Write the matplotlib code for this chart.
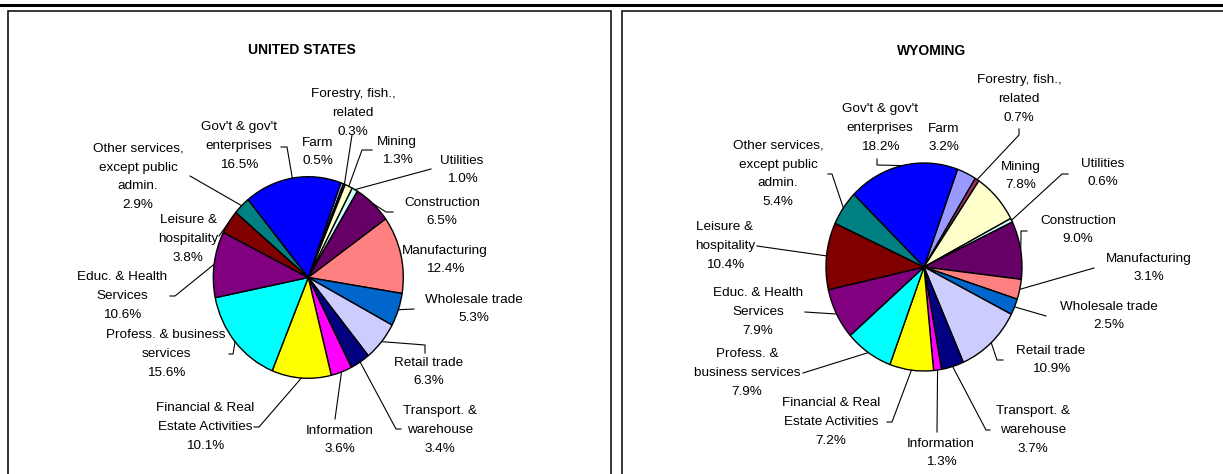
import matplotlib
matplotlib.use("Agg")
import matplotlib.pyplot as plt
from matplotlib.patches import Rectangle
from matplotlib.lines import Line2D
import numpy as np

plt.rcParams['font.family'] = ['Liberation Sans', 'DejaVu Sans']

# industries, in the order the slices are drawn (clockwise)
industries = ["Farm", "Forestry, fish., related", "Mining", "Utilities", "Construction",
              "Manufacturing", "Wholesale trade", "Retail trade", "Transport. & warehouse",
              "Information", "Financial & Real Estate Activities",
              "Profess. & business services", "Educ. & Health Services",
              "Leisure & hospitality", "Other services, except public admin.",
              "Gov't & gov't enterprises"]
us_share = [0.5, 0.3, 1.3, 1.0, 6.5, 12.4, 5.3, 6.3, 3.4, 3.6, 10.1, 15.6, 10.6, 3.8, 2.9, 16.5]
wy_share = [3.2, 0.7, 7.8, 0.6, 9.0, 3.1, 2.5, 10.9, 3.7, 1.3, 7.2, 7.9, 7.9, 10.4, 5.4, 18.2]

# label text as it is wrapped on each chart
us_names = ["Farm", "Forestry, fish.,\nrelated", "Mining", "Utilities", "Construction",
            "Manufacturing", "Wholesale trade", "Retail trade", "Transport. &\nwarehouse",
            "Information", "Financial & Real\nEstate Activities",
            "Profess. & business\nservices", "Educ. & Health\nServices",
            "Leisure &\nhospitality", "Other services,\nexcept public\nadmin.",
            "Gov't & gov't\nenterprises"]
wy_names = ["Farm", "Forestry, fish.,\nrelated", "Mining", "Utilities", "Construction",
            "Manufacturing", "Wholesale trade", "Retail trade", "Transport. &\nwarehouse",
            "Information", "Financial & Real\nEstate Activities",
            "Profess. &\nbusiness services", "Educ. & Health\nServices",
            "Leisure &\nhospitality", "Other services,\nexcept public\nadmin.",
            "Gov't & gov't\nenterprises"]

colors = ["#9999FF", "#993366", "#FFFFCC", "#CCFFFF", "#660066", "#FF8080", "#0066CC",
          "#CCCCFF", "#000080", "#FF00FF", "#FFFF00", "#00FFFF", "#800080", "#800000",
          "#008080", "#0000FF"]

W, H = 1223, 474
fig = plt.figure(figsize=(W / 100, H / 100), dpi=100)

# layout (pixels): pie centre / radii, label centres, leader line start points
us_layout = dict(
    title="UNITED STATES", title_xy=(302, 50), cx=308.3, cy=277.5, rx=95, ry=100.8,
    label_xy=[(318, 152), (353, 113), (397, 151), (462, 170), (442, 212), (445, 260),
              (474, 309), (429, 372), (440, 430), (340, 440), (205, 427), (166, 354),
              (122, 296), (188, 239), (138, 177), (239, 146)],
    leaders=[None, [(352, 135)], [(372, 150), (362, 150)], [(431, 169)],
             [(393, 212), (386, 212)], None, [(414, 309)], [(425, 353), (425, 345)],
             [(401, 429), (396, 429)], [(335, 419)], [(254, 427), (259, 427)],
             [(229, 354), (233, 354)], [(170, 296), (175, 296)], [(219, 236)],
             [(190, 176)], [(281, 147), (287, 147)]],
)
wy_layout = dict(
    title="WYOMING", title_xy=(932, 51), cx=924, cy=267, rx=98, ry=104,
    label_xy=[(944, 138), (1019, 99), (1021, 176), (1103, 173), (1078, 230), (1149, 268),
              (1109, 316), (1051, 360), (1033, 430), (941, 453), (831, 422), (747, 373),
              (758, 312), (725, 246), (778, 174), (880, 128)],
    leaders=[None, [(1019, 129), (1019, 135)], None, [(1068, 174), (1062, 174)],
             [(1027, 231), (1021, 231), (1021, 238)], [(1094, 268)], [(1046, 316)],
             [(1003, 360), (997, 360)], [(990, 430), (986, 430)], [(937, 432)],
             [(887, 422), (892, 422)], [(803, 373)], [(805, 312)], [(757, 246)],
             [(828, 174), (832, 174)], [(877, 159), (877, 165)]],
)


def draw_pie(values, names, lay):
    cx, cy, rx, ry = lay["cx"], lay["cy"], lay["rx"], lay["ry"]
    ax = fig.add_axes([(cx - rx) / W, (H - cy - ry) / H, 2 * rx / W, 2 * ry / H])
    wedges, _ = ax.pie(values, colors=colors, startangle=70, counterclock=False,
                       wedgeprops=dict(edgecolor="black", linewidth=1.0))
    ax.set_aspect("auto")
    ax.set_xlim(-1, 1)
    ax.set_ylim(-1, 1)
    ax.axis("off")

    def to_data(p):
        return (p[0] - cx) / rx, (cy - p[1]) / ry

    for w, v, name, pos, lead in zip(wedges, values, names, lay["label_xy"], lay["leaders"]):
        x, y = to_data(pos)
        ax.text(x, y, f"{name}\n{v:.1f}%", ha="center", va="center", fontsize=9.7,
                linespacing=1.75, clip_on=False)
        if lead is not None:
            mid = np.deg2rad((w.theta1 + w.theta2) / 2)
            pts = [to_data(p) for p in lead] + [(np.cos(mid), np.sin(mid))]
            xs, ys = zip(*pts)
            ax.plot(xs, ys, color="black", lw=0.8, clip_on=False)

    tx, ty = lay["title_xy"]
    fig.text(tx / W, 1 - ty / H, lay["title"], ha="center", va="center",
             fontsize=10, fontweight="bold")


draw_pie(us_share, us_names, us_layout)
draw_pie(wy_share, wy_names, wy_layout)

# panel frames and the rule above them
for x0, x1 in [(7.5, 611), (622.5, 1240)]:
    fig.add_artist(Rectangle((x0 / W, -0.05), (x1 - x0) / W, (H - 11.5) / H + 0.05,
                             transform=fig.transFigure, fill=False, ec="black", lw=1.1))
fig.add_artist(Line2D([0, 1], [1 - 5 / H] * 2, transform=fig.transFigure,
                      color="black", lw=2.2))

fig.savefig("out.png", dpi=100)
